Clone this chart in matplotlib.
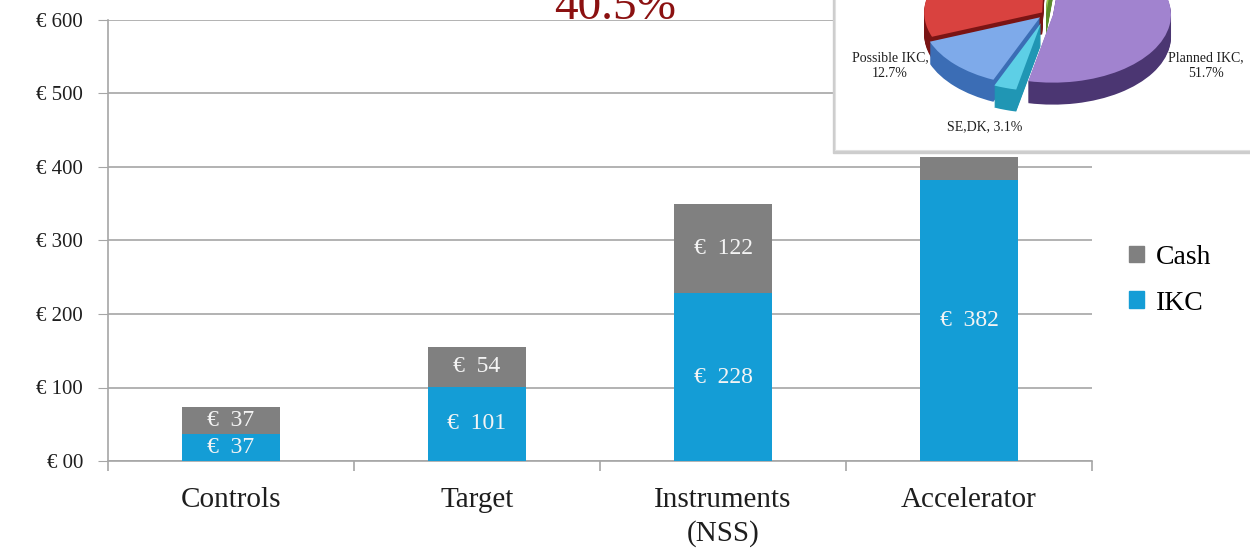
import numpy as np
import matplotlib
matplotlib.use("Agg")
import matplotlib.pyplot as plt
from matplotlib.patches import Wedge, Rectangle, Patch
from matplotlib.transforms import Affine2D

plt.rcParams["font.family"] = ["Liberation Serif", "DejaVu Serif"]

# cost split per work package (M EUR)
categories = ["Controls", "Target", "Instruments\n(NSS)", "Accelerator"]
ikc = [37, 101, 228, 382]
cash = [37, 54, 122, 32]
cash_labelled = [True, True, True, False]

y_ticks = [0, 100, 200, 300, 400, 500, 600]
y_tick_labels = ["€ 00", "€ 100", "€ 200", "€ 300", "€ 400", "€ 500", "€ 600"]

# contribution shares for the small pie
pie_labels = ["Planned IKC", "SE,DK", "Possible IKC", "", ""]
pie_shares = [51.7, 3.1, 12.7, 31.4, 1.1]
headline = "40.5%"

IKC_COLOR = "#149dd6"
CASH_COLOR = "#808080"
GRID = "#a6a6a6"
TXT = "#1e1e1e"

W, H = 1250, 550
fig = plt.figure(figsize=(12.5, 5.5), dpi=100)


def px_box(left, top, right, bottom):
    return [left / W, 1 - bottom / H, (right - left) / W, (bottom - top) / H]


ax = fig.add_axes(px_box(108, 20, 1092, 461))
x = np.arange(len(categories))
ax.bar(x, ikc, 0.4, color=IKC_COLOR, zorder=3)
ax.bar(x, cash, 0.4, bottom=ikc, color=CASH_COLOR, zorder=3)

for i in range(len(categories)):
    ax.text(x[i], ikc[i] / 2, f"€  {ikc[i]}", ha="center", va="center",
            color="#f4f4f4", fontsize=17, zorder=4)
    if cash_labelled[i]:
        ax.text(x[i], ikc[i] + cash[i] / 2, f"€  {cash[i]}", ha="center",
                va="center", color="#f4f4f4", fontsize=17, zorder=4)

ax.set_xlim(-0.5, 3.5)
ax.set_ylim(0, 600)
ax.set_yticks(y_ticks, y_tick_labels)
ax.yaxis.grid(True, color=GRID, lw=1.2)
ax.set_axisbelow(True)
for s in ["top", "right"]:
    ax.spines[s].set_visible(False)
for s in ["left", "bottom"]:
    ax.spines[s].set_color(GRID)
    ax.spines[s].set_linewidth(1.2)
ax.tick_params(axis="y", length=7, color=GRID, labelsize=15, pad=11,
               labelcolor=TXT)
ax.set_xticks(x, categories)
ax.set_xticks(np.arange(-0.5, 4), minor=True)
ax.tick_params(axis="x", which="major", length=0, labelsize=21, pad=19,
               labelcolor=TXT)
ax.tick_params(axis="x", which="minor", length=7, color=GRID, width=1.2)
for lbl in ax.get_xticklabels():
    lbl.set_linespacing(1.3)

handles = [Patch(color=CASH_COLOR, label="Cash"),
           Patch(color=IKC_COLOR, label="IKC")]
ax.legend(handles=handles, loc="center left", bbox_to_anchor=(1.023, 0.41),
          frameon=False, fontsize=20, handlelength=0.55, handleheight=0.55,
          handletextpad=0.45, labelspacing=0.75, borderpad=0)

fig.text(615 / W, 1 - 19 / H, headline, ha="center", va="baseline",
         fontsize=34, color="#8b1111")

# inset with the 3d-looking pie
shadow = Rectangle((833 / W, 1 - 153 / H), 430 / W, 170 / H,
                   transform=fig.transFigure, color="#cdcdcd", zorder=1.5)
fig.patches.append(shadow)

pax = fig.add_axes(px_box(835, -12, 1262, 150), zorder=2)
pax.set_xlim(835, 1262)
pax.set_ylim(150, -12)
pax.set_xticks([])
pax.set_yticks([])
for s in pax.spines.values():
    s.set_color("#e0e0e0")

top_colors = ["#a183cf", "#5dcfe6", "#7eaaea", "#d9423f", "#9ccc52"]
side_colors = ["#4b3672", "#2096b4", "#3b6db5", "#7a1414", "#5a8a2a"]
explode = [0.06, 0.14, 0.07, 0.04, 0.0]
cx, cy, rx, ry, depth = 1046, 14, 118, 68, 22

bounds = []
theta = 84.0
for share in pie_shares:
    span = share * 3.6
    bounds.append((theta - span, theta))
    theta -= span

offsets = []
for (t1, t2), e in zip(bounds, explode):
    mid = np.radians((t1 + t2) / 2)
    offsets.append((e * rx * np.cos(mid), -e * ry * np.sin(mid)))


def wedge_at(t1, t2, dx, dy, color):
    tr = Affine2D().scale(rx, -ry).translate(cx + dx, cy + dy) + pax.transData
    w = Wedge((0, 0), 1, t1, t2, color=color, lw=0, transform=tr)
    pax.add_patch(w)


for k in range(depth, 0, -1):
    for (t1, t2), (dx, dy), c in zip(bounds, offsets, side_colors):
        wedge_at(t1, t2, dx, dy + k, c)
for (t1, t2), (dx, dy), c in zip(bounds, offsets, top_colors):
    wedge_at(t1, t2, dx, dy, c)

label_pos = {0: (1206, 66), 2: (890, 66), 1: (985, 127)}
for i, (px, py) in label_pos.items():
    if pie_labels[i] == "SE,DK":
        txt = f"{pie_labels[i]}, {pie_shares[i]}%"
    else:
        txt = f"{pie_labels[i]},\n{pie_shares[i]}%"
    pax.text(px, py, txt, ha="center", va="center", fontsize=10,
             color=TXT, linespacing=1.3)

fig.savefig("out.png", dpi=100)
